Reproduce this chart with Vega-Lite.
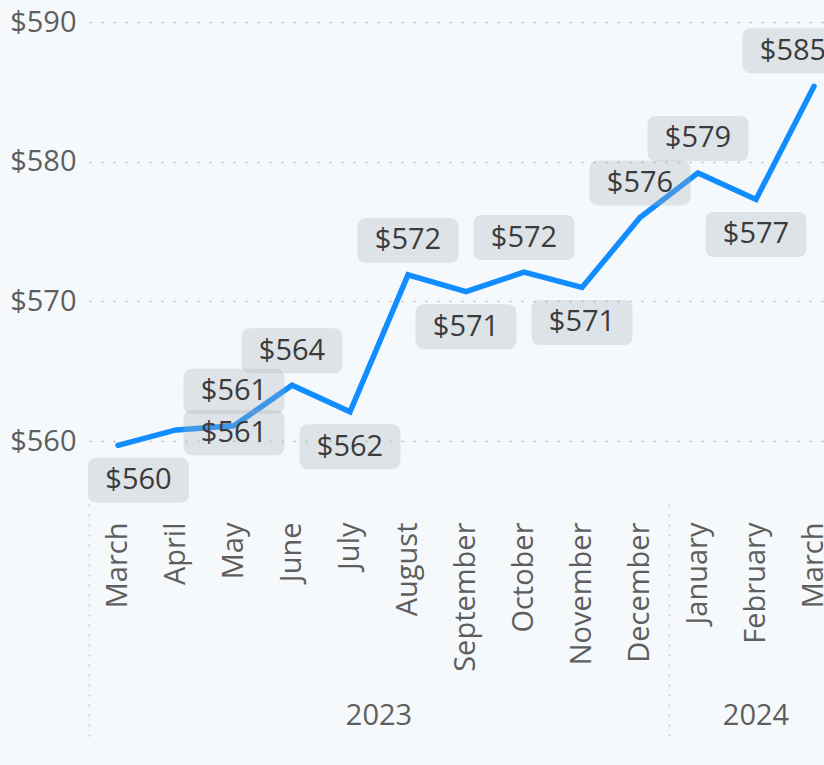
{
  "$schema": "https://vega.github.io/schema/vega-lite/v6.json",
  "width": 735,
  "height": 482,
  "autosize": "none",
  "padding": {"left": 89, "top": 22, "right": 0, "bottom": 261},
  "background": "#F5F9FC",
  "config": {
    "view": {"stroke": null},
    "font": "Open Sans",
    "axis": {"labelFont": "Open Sans", "labelColor": "#605E5C", "labelFontSize": 29, "title": null, "domain": false}
  },
  "data": {
    "values": [
      {"month": "March 2023", "price": 559.7},
      {"month": "April 2023", "price": 560.8},
      {"month": "May 2023", "price": 561.1},
      {"month": "June 2023", "price": 564.0},
      {"month": "July 2023", "price": 562.1},
      {"month": "August 2023", "price": 571.9},
      {"month": "September 2023", "price": 570.7},
      {"month": "October 2023", "price": 572.1},
      {"month": "November 2023", "price": 571.0},
      {"month": "December 2023", "price": 576.0},
      {"month": "January 2024", "price": 579.2},
      {"month": "February 2024", "price": 577.3},
      {"month": "March 2024", "price": 585.4}
    ]
  },
  "encoding": {
    "y": {
      "field": "price",
      "type": "quantitative",
      "scale": {"domain": [555.5, 590], "nice": false, "zero": false},
      "axis": {
        "values": [560, 570, 580, 590],
        "ticks": false,
        "labelPadding": 13,
        "format": "$.0f",
        "grid": true,
        "gridDash": [2, 10],
        "gridColor": "#BDBDBD",
        "gridWidth": 1.6
      }
    }
  },
  "layer": [
    {
      "mark": {"type": "line", "color": "#118DFF", "strokeWidth": 5.5, "strokeCap": "round"},
      "encoding": {
        "x": {
          "field": "month", "type": "nominal",
          "scale": {"type": "band", "range": [0, 754], "paddingInner": 0, "paddingOuter": 0,
            "domain": ["March 2023", "April 2023", "May 2023", "June 2023", "July 2023", "August 2023", "September 2023", "October 2023", "November 2023", "December 2023", "January 2024", "February 2024", "March 2024"]},
          "axis": {"orient": "bottom", "ticks": false, "labelAngle": -90, "labelAlign": "right", "labelBaseline": "middle", "labelPadding": 18, "labelExpr": "split(datum.label, ' ')[0]", "grid": false}
        }
      }
    },
    {
      "transform": [{"filter": {"field": "month", "oneOf": ["May 2023", "June 2023", "August 2023", "October 2023", "December 2023", "January 2024"]}}],
      "mark": {"type": "point", "shape": "M-0.822,-0.4455 L0.822,-0.4455 Q1,-0.4455 1,-0.2675 L1,0.2675 Q1,0.4455 0.822,0.4455 L-0.822,0.4455 Q-1,0.4455 -1,0.2675 L-1,-0.2675 Q-1,-0.4455 -0.822,-0.4455 Z", "filled": true, "color": "#A9B1B7", "opacity": 0.3, "size": 10201, "strokeWidth": 0, "yOffset": -34.5},
      "encoding": {
        "x": {
          "field": "month", "type": "nominal",
          "axis": {"orient": "bottom", "values": ["August 2023"], "ticks": false, "labelAngle": 0, "labelAlign": "center", "labelBaseline": "middle", "labelPadding": 211, "labelOffset": -29, "labelExpr": "'2023'", "grid": false}
        }
      }
    },
    {
      "transform": [{"filter": {"field": "month", "oneOf": ["July 2023", "September 2023", "November 2023", "February 2024"]}}],
      "mark": {"type": "point", "shape": "M-0.822,-0.4455 L0.822,-0.4455 Q1,-0.4455 1,-0.2675 L1,0.2675 Q1,0.4455 0.822,0.4455 L-0.822,0.4455 Q-1,0.4455 -1,0.2675 L-1,-0.2675 Q-1,-0.4455 -0.822,-0.4455 Z", "filled": true, "color": "#A9B1B7", "opacity": 0.3, "size": 10201, "strokeWidth": 0, "yOffset": 35},
      "encoding": {
        "x": {
          "field": "month", "type": "nominal",
          "axis": {"orient": "bottom", "values": ["February 2024"], "ticks": false, "labelAngle": 0, "labelAlign": "center", "labelBaseline": "middle", "labelPadding": 211, "labelExpr": "'2024'", "grid": false}
        }
      }
    },
    {
      "transform": [{"filter": {"field": "month", "oneOf": ["May 2023"]}}],
      "mark": {"type": "point", "shape": "M-0.822,-0.4455 L0.822,-0.4455 Q1,-0.4455 1,-0.2675 L1,0.2675 Q1,0.4455 0.822,0.4455 L-0.822,0.4455 Q-1,0.4455 -1,0.2675 L-1,-0.2675 Q-1,-0.4455 -0.822,-0.4455 Z", "filled": true, "color": "#A9B1B7", "opacity": 0.3, "size": 10201, "strokeWidth": 0, "yOffset": 7},
      "encoding": {
        "x": {
          "field": "month", "type": "nominal",
          "axis": {"orient": "bottom", "values": ["March 2023", "January 2024"], "bandPosition": 0, "labels": false, "ticks": true, "tickSize": 240, "tickDash": [2, 8], "tickColor": "#C8C8C8", "tickWidth": 1.5, "grid": false}
        }
      }
    },
    {
      "transform": [{"filter": {"field": "month", "oneOf": ["March 2023"]}}],
      "mark": {"type": "point", "shape": "M-0.822,-0.4455 L0.822,-0.4455 Q1,-0.4455 1,-0.2675 L1,0.2675 Q1,0.4455 0.822,0.4455 L-0.822,0.4455 Q-1,0.4455 -1,0.2675 L-1,-0.2675 Q-1,-0.4455 -0.822,-0.4455 Z", "filled": true, "color": "#A9B1B7", "opacity": 0.3, "size": 10201, "strokeWidth": 0, "yOffset": 35, "xOffset": 20.5},
      "encoding": {
        "x": {"field": "month", "type": "nominal", "axis": null}
      }
    },
    {
      "transform": [{"filter": {"field": "month", "oneOf": ["March 2024"]}}],
      "mark": {"type": "point", "shape": "M-0.822,-0.4455 L0.822,-0.4455 Q1,-0.4455 1,-0.2675 L1,0.2675 Q1,0.4455 0.822,0.4455 L-0.822,0.4455 Q-1,0.4455 -1,0.2675 L-1,-0.2675 Q-1,-0.4455 -0.822,-0.4455 Z", "filled": true, "color": "#A9B1B7", "opacity": 0.3, "size": 10201, "strokeWidth": 0, "yOffset": -35.5, "xOffset": -21},
      "encoding": {
        "x": {"field": "month", "type": "nominal", "axis": null}
      }
    },
    {
      "transform": [{"filter": {"field": "month", "oneOf": ["May 2023", "June 2023", "August 2023", "October 2023", "December 2023", "January 2024"]}}],
      "mark": {"type": "text", "fontSize": 29, "color": "#3B3B3B", "baseline": "middle", "dy": -34.5},
      "encoding": {
        "x": {"field": "month", "type": "nominal", "axis": null},
        "text": {"field": "price", "type": "quantitative", "format": "$.0f"}
      }
    },
    {
      "transform": [{"filter": {"field": "month", "oneOf": ["July 2023", "September 2023", "November 2023", "February 2024"]}}],
      "mark": {"type": "text", "fontSize": 29, "color": "#3B3B3B", "baseline": "middle", "dy": 35},
      "encoding": {
        "x": {"field": "month", "type": "nominal", "axis": null},
        "text": {"field": "price", "type": "quantitative", "format": "$.0f"}
      }
    },
    {
      "transform": [{"filter": {"field": "month", "oneOf": ["May 2023"]}}],
      "mark": {"type": "text", "fontSize": 29, "color": "#3B3B3B", "baseline": "middle", "dy": 7},
      "encoding": {
        "x": {"field": "month", "type": "nominal", "axis": null},
        "text": {"field": "price", "type": "quantitative", "format": "$.0f"}
      }
    },
    {
      "transform": [{"filter": {"field": "month", "oneOf": ["March 2023"]}}],
      "mark": {"type": "text", "fontSize": 29, "color": "#3B3B3B", "baseline": "middle", "dy": 35, "dx": 20.5},
      "encoding": {
        "x": {"field": "month", "type": "nominal", "axis": null},
        "text": {"field": "price", "type": "quantitative", "format": "$.0f"}
      }
    },
    {
      "transform": [{"filter": {"field": "month", "oneOf": ["March 2024"]}}],
      "mark": {"type": "text", "fontSize": 29, "color": "#3B3B3B", "baseline": "middle", "dy": -35.5, "dx": -21},
      "encoding": {
        "x": {"field": "month", "type": "nominal", "axis": null},
        "text": {"field": "price", "type": "quantitative", "format": "$.0f"}
      }
    }
  ],
  "resolve": {"axis": {"x": "independent"}}
}
